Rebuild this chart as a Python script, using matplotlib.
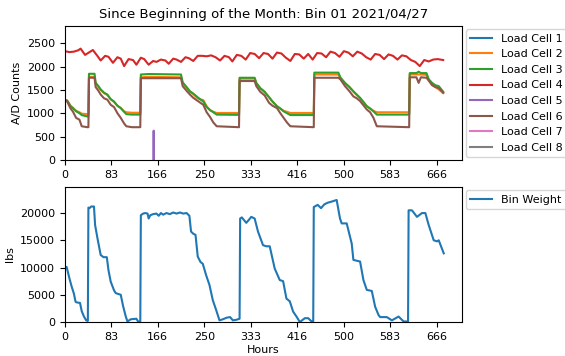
import matplotlib
matplotlib.use("Agg")
import matplotlib.pyplot as plt
import numpy as np

title = "Since Beginning of the Month: Bin 01 2021/04/27"
x_ticks = [0, 83, 166, 250, 333, 416, 500, 583, 666]
top_yticks = [0, 500, 1000, 1500, 2000, 2500]
bot_yticks = [0, 5000, 10000, 15000, 20000]

# Load cells 2, 3, 6 share the same hour knots
cell_hours = [0, 4, 10, 14, 20, 26, 30, 40, 42, 43, 53, 55, 60, 64, 70, 76, 82, 88, 94, 100,
              106, 110, 120, 135, 136, 150, 208, 211, 218, 224, 230, 236, 242, 248, 254, 260,
              266, 272, 312, 313, 340, 343, 350, 358, 366, 372, 380, 386, 392, 398, 404, 446,
              447, 490, 494, 502, 510, 517, 523, 529, 535, 541, 547, 553, 559, 617, 618, 630,
              634, 638, 648, 652, 658, 664, 670, 678]
cell3 = [1290, 1270, 1150, 1110, 1040, 1000, 960, 930, 930, 1845, 1845, 1650, 1580, 1510, 1440,
         1400, 1300, 1250, 1160, 1110, 1030, 980, 970, 970, 1830, 1840, 1830, 1660, 1560, 1470,
         1420, 1360, 1300, 1250, 1130, 1070, 1020, 970, 965, 1760, 1760, 1650, 1540, 1460, 1340,
         1250, 1150, 1100, 1040, 1000, 960, 960, 1870, 1870, 1760, 1650, 1560, 1470, 1400, 1330,
         1240, 1150, 1100, 1040, 970, 970, 1860, 1860, 1890, 1860, 1860, 1730, 1650, 1600, 1580,
         1460]
cell2 = [1290, 1270, 1160, 1120, 1050, 1020, 990, 980, 980, 1780, 1780, 1640, 1560, 1500, 1430,
         1390, 1300, 1240, 1160, 1110, 1040, 1020, 1010, 1010, 1770, 1780, 1770, 1650, 1550, 1460,
         1410, 1340, 1300, 1280, 1150, 1060, 1030, 1005, 1005, 1740, 1740, 1640, 1530, 1450, 1340,
         1250, 1150, 1100, 1050, 1030, 1005, 1005, 1830, 1830, 1750, 1640, 1560, 1460, 1390, 1320,
         1240, 1150, 1100, 1050, 1020, 1020, 1830, 1830, 1830, 1830, 1820, 1710, 1620, 1560, 1510,
         1430]
cell6 = [1280, 1250, 1100, 1040, 900, 860, 720, 700, 700, 1760, 1760, 1560, 1480, 1400, 1320,
         1290, 1180, 1130, 1000, 900, 780, 720, 700, 700, 1750, 1750, 1750, 1580, 1480, 1400,
         1330, 1280, 1230, 1180, 1020, 920, 800, 720, 700, 1690, 1690, 1580, 1460, 1380, 1220,
         1160, 1110, 1000, 900, 800, 720, 700, 1760, 1760, 1720, 1580, 1470, 1360, 1320, 1260,
         1170, 1080, 1020, 900, 720, 700, 1770, 1770, 1650, 1770, 1760, 1700, 1600, 1560, 1540,
         1440]

cell4_hours = [0, 8, 16, 24, 28, 36, 44, 50, 58, 64, 72, 78, 86, 94, 100, 106, 114, 122, 128,
               136, 142, 150, 158, 164, 172, 180, 186, 194, 200, 208, 216, 222, 230, 238, 246,
               254, 262, 270, 278, 286, 294, 300, 308, 316, 324, 332, 340, 348, 356, 364, 372,
               380, 388, 396, 404, 412, 420, 428, 436, 444, 452, 460, 468, 476, 484, 492, 500,
               508, 516, 524, 532, 540, 548, 556, 564, 572, 580, 588, 596, 604, 612, 620, 628,
               636, 644, 652, 660, 668, 678]
cell4 = [2330, 2310, 2320, 2350, 2385, 2250, 2310, 2355, 2230, 2130, 2230, 2210, 2080, 2200, 2170,
         2010, 2160, 2140, 2040, 2190, 2160, 2040, 2120, 2100, 2150, 2130, 2060, 2170, 2150, 2100,
         2200, 2180, 2120, 2230, 2230, 2220, 2240, 2200, 2130, 2230, 2200, 2110, 2250, 2230, 2150,
         2290, 2270, 2180, 2290, 2270, 2170, 2300, 2280, 2190, 2120, 2270, 2260, 2170, 2270, 2150,
         2290, 2280, 2200, 2320, 2290, 2210, 2330, 2300, 2220, 2320, 2280, 2200, 2150, 2270, 2250,
         2160, 2260, 2230, 2150, 2240, 2220, 2140, 2100, 2010, 2140, 2110, 2150, 2160, 2140]

cell5_hours = [158.5, 159, 159.5]
cell5 = [0, 625, 0]
cell1 = []
cell7 = []
cell8 = []

bin_hours = [0, 3, 8, 12, 16, 19, 21, 27, 30, 34, 38, 41, 42, 44, 47, 52, 54, 58, 64, 69, 75, 78,
             82, 88, 91, 100, 104, 109, 112, 118, 128, 131, 135, 136, 140, 144, 148, 150, 153, 158,
             164, 168, 172, 176, 182, 188, 194, 200, 206, 212, 218, 223, 226, 230, 234, 238, 243,
             247, 253, 259, 265, 271, 277, 283, 290, 296, 301, 307, 313, 314, 317, 325, 330, 334,
             340, 346, 355, 361, 367, 376, 385, 391, 397, 403, 409, 415, 421, 430, 436, 441, 445,
             446, 453, 459, 465, 471, 478, 487, 493, 496, 505, 514, 517, 529, 535, 541, 550, 556,
             562, 565, 577, 586, 598, 607, 615, 616, 622, 631, 640, 646, 652, 661, 667, 670, 679]
bin_weight = [10100, 10100, 8000, 6500, 5200, 3700, 3600, 3500, 2000, 1000, 300, 200, 21000, 20900,
              21200, 21200, 17800, 15500, 12300, 11900, 11900, 9500, 7400, 5800, 5300, 5000, 3000,
              1000, 100, 500, 600, 100, 100, 19600, 19900, 20000, 19900, 19000, 19600, 19800, 19900,
              19500, 20000, 19700, 20000, 19800, 20100, 19900, 20100, 19900, 20000, 19500, 16600,
              16200, 16000, 12000, 11000, 10700, 8600, 6800, 4000, 2200, 300, 500, 800, 900, 300,
              400, 600, 19000, 19200, 18200, 18800, 19300, 19000, 16600, 14100, 13900, 13900, 9800,
              7700, 7500, 4300, 3800, 1900, 1000, 0, 700, 700, 200, 100, 21100, 21500, 20900, 21600,
              21900, 22100, 22400, 19000, 18100, 18100, 14400, 11400, 11100, 7700, 5900, 5700, 2800,
              1300, 900, 900, 300, 1000, 100, 100, 20500, 20500, 19300, 20000, 20000, 17800, 15000,
              14800, 15000, 12600]

colors = ['#1f77b4', '#ff7f0e', '#2ca02c', '#d62728', '#9467bd', '#8c564b', '#e377c2', '#7f7f7f']

plt.rcParams['font.family'] = ['DejaVu Sans']
fig = plt.figure(figsize=(5.65, 3.56), dpi=100)
ax1 = fig.add_axes([0.115, 0.551, 0.703, 0.376])
ax2 = fig.add_axes([0.115, 0.0955, 0.703, 0.3795])

series = [
    ("Load Cell 1", [], cell1),
    ("Load Cell 2", cell_hours, cell2),
    ("Load Cell 3", cell_hours, cell3),
    ("Load Cell 4", cell4_hours, cell4),
    ("Load Cell 5", cell5_hours, cell5),
    ("Load Cell 6", cell_hours, cell6),
    ("Load Cell 7", [], cell7),
    ("Load Cell 8", [], cell8),
]
for (lab, xs, ys), c in zip(series, colors):
    ax1.plot(xs, ys, color=c, lw=1.5, label=lab)

ax1.set_xlim(0, 712)
ax1.set_ylim(0, 2870)
ax1.set_xticks(x_ticks)
ax1.set_yticks(top_yticks)
ax1.set_ylabel("A/D Counts", fontsize=8)
ax1.set_title(title, fontsize=9.5)
ax1.tick_params(labelsize=8)
ax1.legend(loc='upper left', bbox_to_anchor=(1.0, 1.0), borderaxespad=0.3, fontsize=8)

ax2.plot(bin_hours, bin_weight, color=colors[0], lw=1.5, label="Bin Weight")
ax2.set_xlim(0, 712)
ax2.set_ylim(0, 24800)
ax2.set_xticks(x_ticks)
ax2.set_yticks(bot_yticks)
ax2.set_ylabel("lbs", fontsize=8)
ax2.set_xlabel("Hours", fontsize=8, labelpad=2)
ax2.tick_params(labelsize=8)
ax2.legend(loc='upper left', bbox_to_anchor=(1.0, 1.0), borderaxespad=0.3, fontsize=8)

fig.savefig("out.png", dpi=100)
